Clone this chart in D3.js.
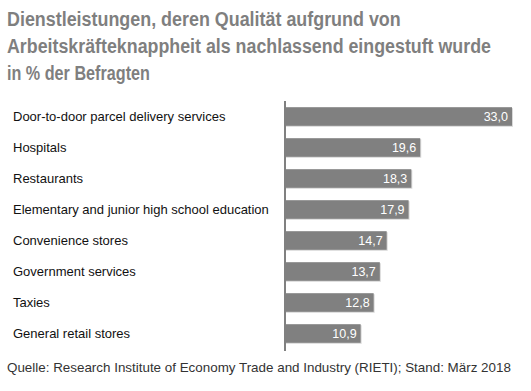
<!DOCTYPE html>
<html><head><meta charset="utf-8">
<script src="https://cdn.jsdelivr.net/npm/d3@7"></script>
<style>
html,body{margin:0;padding:0;background:#fff;}
svg{display:block;}
</style></head>
<body>
<svg id="c" width="531" height="391"></svg>
<script>
const titleLines = ["Dienstleistungen, deren Qualität aufgrund von", "Arbeitskräfteknappheit als nachlassend eingestuft wurde", "in % der Befragten"];
const titleWidths = [394, 484, 143];
const categories = ["Door-to-door parcel delivery services","Hospitals","Restaurants","Elementary and junior high school education","Convenience stores","Government services","Taxies","General retail stores"];
const values = [33.0,19.6,18.3,17.9,14.7,13.7,12.8,10.9];
const source = "Quelle: Research Institute of Economy Trade and Industry (RIETI); Stand: März 2018";

const svg = d3.select("#c");
const x = d3.scaleLinear().domain([0,33]).range([286,512]);
const y = d3.scaleBand().domain(categories).range([101,349]).paddingInner(0.4).paddingOuter(0.2);

svg.append("g").selectAll("text").data(titleLines).join("text")
  .attr("x",0).attr("y",0)
  .attr("font-family","'Liberation Sans',Arial,sans-serif")
  .attr("font-weight","bold").attr("font-size",21).attr("fill","#7f7f7f")
  .text(d=>d)
  .attr("transform",function(d,i){
    const w = this.getComputedTextLength();
    return `translate(7,${26+i*27}) scale(${titleWidths[i]/w},1)`;
  });

const g = svg.append("g");
g.selectAll("rect.sh").data(values).join("rect").attr("class","sh")
  .attr("x",x(0)).attr("y",(d,i)=>y(categories[i])+1)
  .attr("width",d=>x(d)-x(0)+1).attr("height",y.bandwidth())
  .attr("fill","#d9d9d9");
g.selectAll("rect.bar").data(values).join("rect").attr("class","bar")
  .attr("x",x(0)).attr("y",(d,i)=>y(categories[i]))
  .attr("width",d=>x(d)-x(0)).attr("height",y.bandwidth())
  .attr("fill","#808080");
g.selectAll("text.v").data(values).join("text").attr("class","v")
  .attr("x",d=>x(d)-4).attr("y",(d,i)=>y(categories[i])+y.bandwidth()/2)
  .attr("dy","0.36em").attr("text-anchor","end")
  .attr("font-family","'Liberation Sans',Arial,sans-serif").attr("font-size",12.5)
  .attr("fill","#fff")
  .text(d=>d3.format(".1f")(d).replace(".",","));

const yAxis = d3.axisLeft(y).tickSize(0).tickPadding(0);
const ax = svg.append("g").attr("transform","translate(13,0)").call(yAxis);
ax.select(".domain").remove();
ax.selectAll("text").attr("text-anchor","start").attr("x",0)
  .attr("font-family","'Liberation Sans',Arial,sans-serif").attr("font-size",13).attr("fill","#111");

svg.append("line").attr("x1",285).attr("x2",285).attr("y1",101).attr("y2",351)
  .attr("stroke","#808080").attr("stroke-width",2);

svg.append("text").attr("x",7).attr("y",372)
  .attr("font-family","'Liberation Sans',Arial,sans-serif").attr("font-size",13.4).attr("fill","#333")
  .text(source);
</script>
</body></html>
